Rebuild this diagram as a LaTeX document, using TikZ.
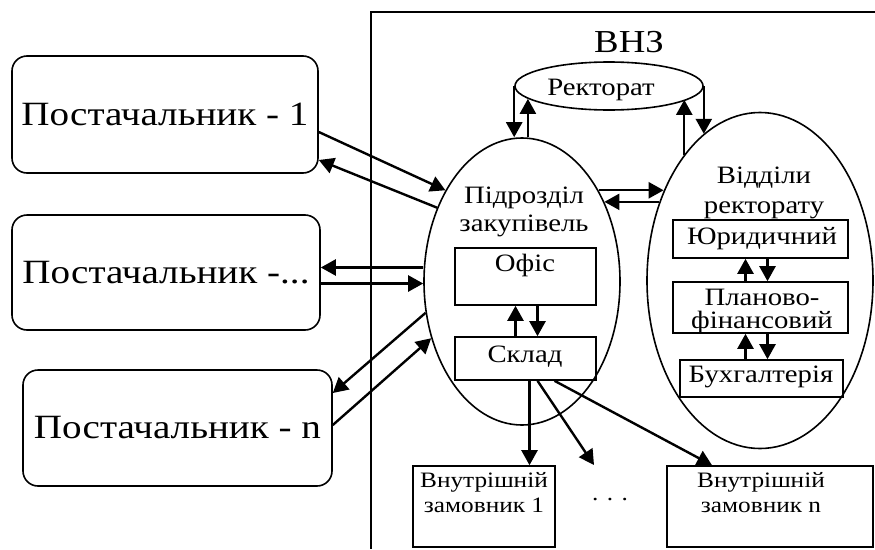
\documentclass[tikz,border=0pt]{standalone}
\usepackage{fontspec}
\setmainfont{Liberation Serif}[FakeStretch=1.15]
\usetikzlibrary{arrows.meta,shapes.geometric}

\begin{document}
\begin{tikzpicture}[x=1pt, y=-1pt]

    % All sizes are taken in pixels of the drawing, y grows downwards
    \tikzset{
        supbox/.style={draw, line width=1.6pt, rounded corners=15pt,
            inner sep=0pt, font=\fontsize{34}{40}\selectfont},
        unit/.style={draw, line width=1.6pt, inner sep=0pt},
        oval/.style={draw, ellipse, line width=1.6pt, inner sep=0pt},
        arr/.style={line width=2.4pt, -{Triangle[length=15pt, width=16pt]}},
        titletext/.style={font=\fontsize{32}{36}\selectfont, anchor=base,
            inner sep=0pt},
        midtext/.style={font=\fontsize{25}{28}\selectfont, anchor=base,
            inner sep=0pt, align=center},
        smalltext/.style={font=\fontsize{22}{25}\selectfont, anchor=base,
            inner sep=0pt, align=center}
    }

    \useasboundingbox (0,0) rectangle (875,549);

    % Suppliers
    \node[supbox, minimum width=306pt, minimum height=117pt] (sup1)
        at (165,114.5) {Постачальник - 1};
    \node[supbox, minimum width=308pt, minimum height=115pt] (sup2)
        at (166,272.5) {Постачальник -...};
    \node[supbox, minimum width=309pt, minimum height=116pt] (supn)
        at (177.5,428) {Постачальник - n};

    % Frame of the university
    \draw[line width=1.6pt] (875,12) -| (371,549);
    \node[titletext] (vnz) at (629,52) {ВНЗ};

    % Ovals (the base of a two line text is its last line)
    \node[oval, minimum width=188pt, minimum height=48pt] (rek) at (609,86) {};
    \node[midtext] (rekT) at (601,95) {Ректорат};
    \node[oval, minimum width=196pt, minimum height=287pt] (zak)
        at (522,281.5) {};
    \node[midtext] (zakT) at (524,231) {Підрозділ\\закупівель};
    \node[oval, minimum width=226pt, minimum height=336pt] (vid)
        at (760,280.5) {};
    \node[midtext, font=\fontsize{25}{30}\selectfont] (vidT)
        at (764,213) {Відділи\\ректорату};

    % Boxes inside the ovals
    \node[unit, minimum width=141pt, minimum height=57pt] (ofis)
        at (525.5,276.5) {};
    \node[midtext] (ofisT) at (525,271) {Офіс};
    \node[unit, minimum width=141pt, minimum height=43pt] (sklad)
        at (525.5,358.5) {};
    \node[midtext] (skladT) at (525,362) {Склад};
    \node[unit, minimum width=175pt, minimum height=38pt] (yur)
        at (760.5,239) {};
    \node[midtext] (yurT) at (762,244) {Юридичний};
    \node[unit, minimum width=175pt, minimum height=51pt] (plan)
        at (760.5,307.5) {};
    \node[midtext, font=\fontsize{25}{23}\selectfont] (planT)
        at (762,328) {Планово-\\фінансовий};
    \node[unit, minimum width=163pt, minimum height=37pt] (buh)
        at (761.5,378.5) {};
    \node[midtext] (buhT) at (761,382) {Бухгалтерія};

    % Internal customers
    \node[unit, minimum width=142pt, minimum height=81pt] (vn1)
        at (484,506.5) {};
    \node[smalltext] (vn1T) at (484,512) {Внутрішній\\замовник 1};
    \node[unit, minimum width=206pt, minimum height=81pt] (vnn)
        at (770,506.5) {};
    \node[smalltext] (vnnT) at (761,512) {Внутрішній\\замовник n};
    \node[smalltext] (dots) at (610,500) {. . .};
    \coordinate (dotsTip) at (594,465);

    % Suppliers <-> purchasing unit
    \begin{scope}[arr]
        \draw (sup1.east |- 0,132) -- (zak.130);
        \draw (zak.139) -- (sup1.east |- 0,160);
        \draw ([yshift=14pt]zak.west) -- ([yshift=5pt]sup2.east);
        \draw ([yshift=-11pt]sup2.east) -- ([yshift=-2pt]zak.west);
        \draw (zak.198) -- ([yshift=35pt]supn.east);
        \draw ([yshift=3pt]supn.east) -- (zak.212);
    \end{scope}

    % Rectorate and the two ovals
    \begin{scope}[arr]
        \draw (rek.west) -- (rek.west |- zak.north);
        \draw (zak.north -| rek.189) -- (rek.189);
        \draw (vid.121) -- (vid.121 |- rek.350);
        \draw (rek.east) -- (rek.east |- vid.111);
        \draw (zak.50) -- (zak.50 -| vid.137);
        \draw (vid.142) -- (vid.142 -| zak.44);
    \end{scope}

    % Inside the ovals
    \begin{scope}[arr]
        \draw ([xshift=-10pt]sklad.north) -- ([xshift=-10pt]ofis.south);
        \draw ([xshift=12pt]ofis.south) -- ([xshift=12pt]sklad.north);
        \draw ([xshift=-15pt]plan.north) -- ([xshift=-15pt]yur.south);
        \draw ([xshift=7pt]yur.south) -- ([xshift=7pt]plan.north);
        \draw ([xshift=-15pt]buh.north -| plan.south) -- ([xshift=-15pt]plan.south);
        \draw ([xshift=7pt]plan.south) -- ([xshift=7pt]plan.south |- buh.north);
    \end{scope}

    % Store to internal customers
    \begin{scope}[arr]
        \draw ([xshift=4pt]sklad.south) -- ([xshift=4pt]sklad.south |- vn1.north);
        \draw ([xshift=12pt]sklad.south) -- (dotsTip);
        \draw ([xshift=29pt]sklad.south) -- ([xshift=-58pt]vnn.north);
    \end{scope}

\end{tikzpicture}
\end{document}
